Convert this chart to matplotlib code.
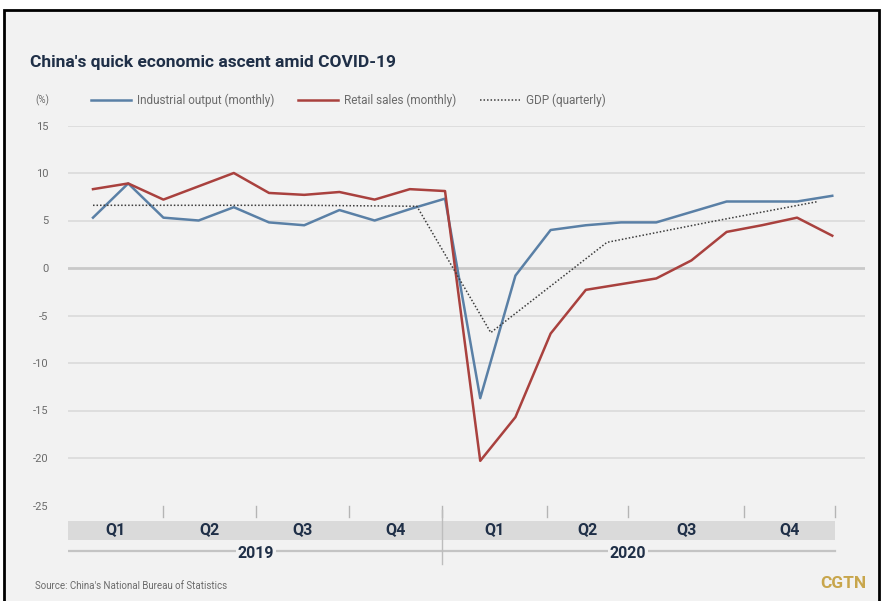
import matplotlib
matplotlib.use('Agg')
import matplotlib.pyplot as plt
from matplotlib.patches import Rectangle
import numpy as np

# ------------------------------------------------------------------
# Data (% year-on-year growth)
# ------------------------------------------------------------------
# monthly points, Jan-Feb 2019 .. Dec 2020 (Jan-Feb reported together)
industrial = [5.3, 8.9, 5.3, 5.0, 6.4, 4.8, 4.5, 6.1, 5.0, 6.2, 7.3,
              -13.7, -0.8, 4.0, 4.5, 4.8, 4.8, 5.9, 7.0, 7.0, 7.0, 7.6]
retail = [8.3, 8.9, 7.2, 8.6, 10.0, 7.9, 7.7, 8.0, 7.2, 8.3, 8.1,
          -20.3, -15.7, -6.9, -2.3, -1.7, -1.1, 0.8, 3.8, 4.5, 5.3, 3.4]
# quarterly GDP, placed on the monthly index
gdp_pos = [0, 3, 6, 9.2, 11.3, 14.6, 17.6, 20.6]
gdp = [6.6, 6.6, 6.6, 6.5, -6.8, 2.7, 4.9, 7.0]

yticks = [15, 10, 5, 0, -5, -10, -15, -20, -25]
quarters = ['Q1', 'Q2', 'Q3', 'Q4', 'Q1', 'Q2', 'Q3', 'Q4']
quarter_edges = [-0.71, 1.99, 4.63, 7.27, 9.91, 12.9, 15.2, 18.5, 21.08]
years = ['2019', '2020']

BG = '#f2f2f2'
NAVY = '#1f2f47'
BLUE = '#5a80a6'
RED = '#a9413e'
GREY_TXT = '#6b6b6b'
FONT = ['Roboto', 'DejaVu Sans']

W, H = 883, 601
fig = plt.figure(figsize=(W / 100, H / 100), dpi=100)
fig.patch.set_facecolor('white')

# framed panel behind everything
fig.patches.append(Rectangle((4 / W, -0.05), (879 - 4) / W, 1.05 - 10 / H,
                             transform=fig.transFigure, facecolor=BG,
                             edgecolor='black', linewidth=2, zorder=-5))


def fx(px):
    return px / W


def fy(py):
    return 1 - py / H


# ------------------------------------------------------------------
# Main line chart
# ------------------------------------------------------------------
x = np.arange(len(industrial))
ax = fig.add_axes([fx(68), fy(505.5), fx(865) - fx(68), fy(125.5) - fy(505.5)])
ax.patch.set_visible(False)
ax.set_xlim(-0.71, 21.93)
ax.set_ylim(-25, 15)

for v in yticks[:-1]:
    ax.axhline(v, color='#c9c9c9' if v == 0 else '#dedede',
               lw=2 if v == 0 else 1.4, zorder=1)

ax.plot(x, industrial, color=BLUE, lw=1.8, zorder=3, label='Industrial output (monthly)')
ax.plot(x, retail, color=RED, lw=1.8, zorder=3, label='Retail sales (monthly)')
ax.plot(gdp_pos, gdp, color='#3c3c3c', lw=1.1, ls=(0, (1, 1.3)), zorder=4,
        label='GDP (quarterly)')

ax.set_yticks(yticks)
ax.set_yticklabels([str(v) for v in yticks], fontsize=8, color=GREY_TXT,
                   family=FONT)
ax.tick_params(axis='y', length=0, pad=14)
ax.set_xticks([])
for s in ax.spines.values():
    s.set_visible(False)

leg = ax.legend(loc='center left', bbox_to_anchor=(fx(80), fy(100)),
                bbox_transform=fig.transFigure, ncol=3, frameon=False,
                handlelength=3.4, handletextpad=0.5, columnspacing=2.0,
                prop={'family': FONT, 'size': 8.5})
for t in leg.get_texts():
    t.set_color(GREY_TXT)

fig.text(fx(35), fy(100), '(%)', fontsize=7, color=GREY_TXT, va='center',
         family=FONT)

# ------------------------------------------------------------------
# Quarter / year band under the chart
# ------------------------------------------------------------------
qax = fig.add_axes([fx(68), fy(570), fx(865) - fx(68), fy(500) - fy(570)])
qax.set_xlim(ax.get_xlim())
qax.set_ylim(0, 70)
qax.axis('off')

qax.add_patch(Rectangle((quarter_edges[0], 30), quarter_edges[-1] - quarter_edges[0], 19,
                        facecolor='#dadada', edgecolor='none', zorder=1))
for e in quarter_edges[1:]:
    qax.plot([e, e], [53, 64], color='#b5b5b5', lw=1, zorder=2)
for i, q in enumerate(quarters):
    c = (quarter_edges[i] + quarter_edges[i + 1]) / 2
    qax.text(c, 40, q, ha='center', va='center', fontsize=11.5, fontweight='bold',
             color=NAVY, family=FONT, zorder=3)

# year line with divider; year labels sit on the mid-year tick
qax.plot([quarter_edges[0], quarter_edges[-1]], [19, 19], color='#c4c4c4', lw=1.6, zorder=1)
qax.plot([quarter_edges[4], quarter_edges[4]], [6, 60], color='#bdbdbd', lw=1, zorder=2)
for k, yr in enumerate(years):
    qax.text(quarter_edges[4 * k + 2], 17, yr, ha='center', va='center', fontsize=11.5,
             fontweight='bold', color=NAVY, family=FONT, zorder=3,
             bbox=dict(facecolor=BG, edgecolor='none', pad=1))

# ------------------------------------------------------------------
# Title and footer
# ------------------------------------------------------------------
fig.text(fx(30), fy(62), "China's quick economic ascent amid COVID-19",
         fontsize=12.5, fontweight='bold', color=NAVY, va='center', family=FONT)
fig.text(fx(35), fy(586), "Source: China's National Bureau of Statistics",
         fontsize=7, color=GREY_TXT, va='center', family=FONT)
fig.text(fx(866), fy(583), 'CGTN', fontsize=12.5, fontweight='bold', color='#c8a64c',
         va='center', ha='right', family=FONT)

fig.savefig('out.png', dpi=100, facecolor=fig.get_facecolor())
